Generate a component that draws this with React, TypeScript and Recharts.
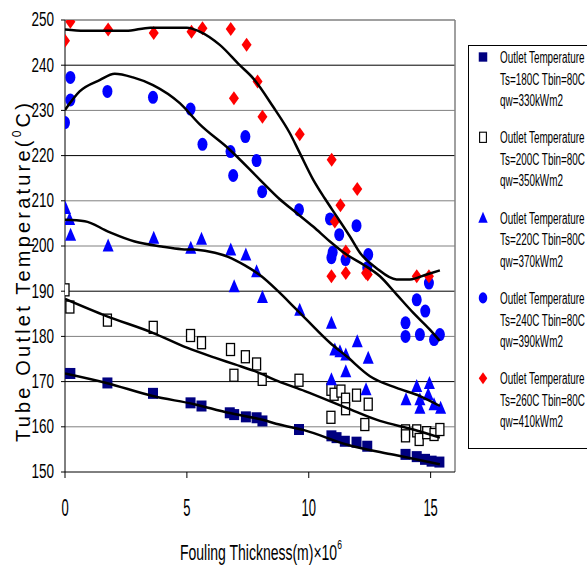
import React from "react";
import { ReferenceLine, Scatter, ScatterChart, XAxis, YAxis } from "recharts";

// readings: [fouling thickness (m x 1e6), outlet temperature (C)]
const ts180 = [
  [0, 171.8], [0.22, 171.8], [1.74, 169.7], [3.61, 167.4], [5.15, 165.3], [5.6, 164.6],
  [6.76, 163.1], [6.94, 162.7], [7.42, 162.2], [7.86, 162.0], [8.1, 161.3], [9.6, 159.4],
  [10.93, 158.0], [11.14, 157.6], [11.48, 156.8], [11.96, 156.6], [12.4, 155.7],
  [13.97, 153.9], [14.43, 153.4], [14.77, 152.8], [15.04, 152.4], [15.36, 152.2],
];
const ts200 = [
  [0, 190.3], [0.2, 186.5], [1.74, 183.6], [3.62, 182.0], [5.15, 180.2], [5.6, 178.6],
  [6.79, 177.1], [6.93, 171.4], [7.4, 175.5], [7.86, 173.9], [8.09, 170.5], [9.6, 170.3],
  [10.91, 168.3], [10.91, 162.1], [11.04, 167.2], [11.32, 167.9], [11.51, 166.1],
  [11.51, 164.0], [11.96, 167.0], [12.3, 160.5], [12.44, 165.0], [13.97, 159.1],
  [13.97, 158.0], [14.43, 159.1], [14.53, 157.2], [14.84, 158.7], [15.14, 158.3], [15.38, 159.4],
];
const ts220 = [
  [0.02, 208.4], [0.19, 206.0], [0.23, 202.5], [1.77, 200.1], [3.64, 201.8], [5.16, 199.6],
  [5.6, 201.6], [6.8, 199.2], [6.94, 191.1], [7.42, 198.1], [7.86, 194.4], [8.1, 188.7],
  [9.63, 185.9], [10.93, 183.0], [10.93, 170.5], [11.07, 177.1], [11.28, 176.7],
  [11.52, 176.0], [11.52, 172.3], [11.99, 178.9], [12.35, 168.3], [12.44, 175.3],
  [13.99, 166.1], [14.43, 169.0], [14.56, 166.1], [14.56, 164.2], [14.9, 167.2],
  [14.95, 169.7], [15.14, 165.0], [15.41, 164.2],
];
const ts240 = [
  [0, 227.3], [0.22, 237.3], [0.22, 232.3], [1.74, 234.2], [3.61, 232.9], [5.15, 230.3],
  [5.64, 222.5], [6.79, 220.9], [6.9, 215.6], [7.4, 224.2], [7.86, 218.9], [8.09, 212.0],
  [9.6, 208.0], [10.87, 206.0], [10.93, 197.4], [10.98, 198.6], [11.25, 202.5],
  [11.51, 197.0], [11.96, 204.5], [12.4, 195.2], [12.44, 198.1], [13.97, 183.0],
  [13.97, 180.0], [14.43, 188.1], [14.56, 180.4], [14.78, 185.6], [14.93, 191.8],
  [15.14, 179.3], [15.38, 180.4],
];
const ts260 = [
  [0, 245.4], [0.22, 249.6], [1.77, 247.9], [3.64, 247.1], [5.19, 247.4], [5.64, 248.2],
  [6.8, 248.0], [7.45, 244.5], [6.93, 232.7], [7.9, 236.4], [8.1, 228.6], [9.63, 224.7],
  [10.94, 219.1], [11.99, 212.6], [11.3, 209.0], [11.07, 205.4], [11.52, 198.8],
  [10.93, 193.3], [11.52, 194.0], [12.35, 194.0], [12.42, 193.7], [14.43, 193.3], [14.93, 193.3],
];

// trend curves
const fit180 = [
  [0, 171.8], [1.7, 169.7], [3.6, 166.8], [5.3, 165.0], [6.7, 163.1], [8.06, 161.6],
  [8.8, 160.5], [9.84, 159.2], [11.55, 156.1], [13.5, 153.8], [15.38, 151.7],
];
const fit200 = [
  [0, 188.3], [1.7, 184.5], [3.6, 180.8], [5.0, 177.5], [6.14, 175.3], [6.97, 173.8],
  [7.79, 172.3], [8.74, 170.1], [9.84, 167.9], [11.55, 164.2], [12.92, 161.3],
  [14.29, 159.4], [15.38, 157.6],
];
const fit220 = [
  [0, 205.8], [0.81, 205.5], [1.77, 203.2], [2.86, 201.0], [3.96, 199.9], [4.78, 199.3],
  [5.32, 199.2], [6.15, 198.5], [6.69, 197.6], [7.38, 195.7], [8.06, 193.3], [8.74, 190.0],
  [9.43, 186.3], [9.91, 183.7], [10.87, 178.6], [11.55, 175.6], [12.51, 171.2],
  [13.6, 168.6], [14.56, 166.8], [15.38, 164.6],
];
const fit240 = [
  [0, 230.1], [0.6, 234.2], [1.42, 236.7], [2.04, 238.1], [2.79, 237.3], [3.61, 235.6],
  [4.71, 231.6], [5.53, 226.9], [6.76, 221.3], [7.99, 214.7], [8.8, 210.4], [9.5, 207.3],
  [10.18, 204.3], [10.87, 201.0], [11.55, 198.1], [12.23, 195.9], [12.92, 193.3],
  [13.6, 189.3], [14.29, 185.2], [14.97, 181.5], [15.38, 179.0],
];
const fit260 = [
  [0, 247.9], [0.8, 247.6], [2.5, 247.6], [3.5, 248.3], [5.0, 248.3], [5.5, 247.5],
  [6.35, 244.5], [7.17, 240.0], [7.72, 237.1], [8.54, 230.8], [9.22, 225.0], [9.63, 220.6],
  [10.18, 214.7], [10.66, 210.5], [11.14, 206.6], [11.69, 202.1], [12.1, 198.5],
  [12.78, 195.1], [13.6, 192.6], [14.15, 192.6], [14.84, 193.7], [15.38, 194.6],
];

const xTicks = [0, 5, 10, 15];
const yTicks = [150, 160, 170, 180, 190, 200, 210, 220, 230, 240, 250];
const darkGrid = [240, 220, 190, 170];

const legendTs = ["180", "200", "220", "240", "260"];
const legendQw = ["330", "350", "370", "390", "410"];

const toPts = (a: number[][]) => a.map(([x, y]) => ({ x, y }));

const FONT = '"Liberation Sans", Arial, sans-serif';

const NavySquare = ({ cx, cy }: any) => (
  <rect x={cx - 5} y={cy - 5.5} width={10} height={11} fill="#000080" />
);
const OpenSquare = ({ cx, cy }: any) => (
  <rect x={cx - 4} y={cy - 6} width={8} height={12} fill="#fff" stroke="#000" strokeWidth={1.3} />
);
const Triangle = ({ cx, cy }: any) => (
  <polygon points={`${cx},${cy - 7} ${cx + 5.5},${cy + 6} ${cx - 5.5},${cy + 6}`} fill="#0000ff" />
);
const Dot = ({ cx, cy }: any) => <ellipse cx={cx} cy={cy} rx={5} ry={6.5} fill="#0000ff" />;
const Diamond = ({ cx, cy }: any) => (
  <polygon points={`${cx},${cy - 7} ${cx + 5},${cy} ${cx},${cy + 7} ${cx - 5},${cy}`} fill="#ff0000" />
);
const NoDot = () => <g />;

const markers = [NavySquare, OpenSquare, Triangle, Dot, Diamond];
const series = [ts180, ts200, ts220, ts240, ts260];
const fits = [fit180, fit200, fit220, fit240, fit260];

const YTick = ({ x, y, payload }: any) => (
  <text
    transform={`translate(${x},${y}) scale(1,1.48)`}
    textAnchor="end"
    dominantBaseline="central"
    fontSize={13.5}
    fontFamily={FONT}
    fill="#000"
  >
    {payload.value}
  </text>
);

const XTick = ({ x, y, payload }: any) => (
  <text
    transform={`translate(${x},${y}) scale(1,1.8)`}
    textAnchor="middle"
    dominantBaseline="central"
    fontSize={13}
    fontFamily={FONT}
    fill="#000"
  >
    {payload.value}
  </text>
);

function Legend() {
  return (
    <g fontFamily={FONT} fill="#000">
      <rect x={468.5} y={45.5} width={140} height={403} fill="#fff" stroke="#000" strokeWidth={1} />
      {legendTs.map((ts, i) => {
        const y = 57 + i * 80.3;
        const M = markers[i];
        const lines = ["Outlet Temperature", `Ts=${ts}C Tbin=80C`, `qw=${legendQw[i]}kWm2`];
        return (
          <g key={ts}>
            <g transform={`translate(483,${y}) scale(0.85)`}>
              <M cx={0} cy={0} />
            </g>
            {lines.map((t, j) => (
              <text
                key={j}
                transform={`translate(500,${y + j * 21.5}) scale(1,1.72)`}
                dominantBaseline="central"
                fontSize={9.9}
              >
                {t}
              </text>
            ))}
          </g>
        );
      })}
    </g>
  );
}

export default function App() {
  return (
    <div
      style={{
        position: "absolute",
        left: 0,
        top: 0,
        width: 587,
        height: 565,
        background: "#fff",
        overflow: "hidden",
      }}
    >
      <ScatterChart width={587} height={565} margin={{ top: 20, right: 132, bottom: 33, left: 20 }}>
        {yTicks
          .filter((v) => v > 150 && v < 250)
          .map((v) => (
            <ReferenceLine
              key={v}
              y={v}
              stroke={darkGrid.includes(v) ? "#000" : "#808080"}
              strokeWidth={1}
            />
          ))}
        <ReferenceLine y={250} stroke="#808080" strokeWidth={1.5} />
        <ReferenceLine x={16} stroke="#808080" strokeWidth={1.5} />
        <XAxis
          type="number"
          dataKey="x"
          domain={[0, 16]}
          ticks={xTicks}
          allowDataOverflow
          height={60}
          tickSize={6}
          tickMargin={30}
          axisLine={{ stroke: "#000" }}
          tickLine={{ stroke: "#000" }}
          tick={<XTick />}
        />
        <YAxis
          type="number"
          dataKey="y"
          domain={[150, 250]}
          ticks={yTicks}
          allowDataOverflow
          width={45}
          tickSize={4}
          tickMargin={7}
          axisLine={{ stroke: "#000" }}
          tickLine={{ stroke: "#000" }}
          tick={<YTick />}
        />
        {series.map((s, i) => (
          <Scatter
            key={`s${i}`}
            data={toPts(s)}
            shape={markers[i]}
            isAnimationActive={false}
          />
        ))}
        {fits.map((f, i) => (
          <Scatter
            key={`f${i}`}
            data={toPts(f)}
            line={{ stroke: "#000", strokeWidth: 2.5 }}
            lineJointType="monotoneX"
            shape={NoDot}
            isAnimationActive={false}
          />
        ))}
      </ScatterChart>
      <svg
        width={587}
        height={565}
        style={{ position: "absolute", left: 0, top: 0, pointerEvents: "none" }}
      >
        <text
          transform="translate(29.5,271) rotate(-90)"
          textAnchor="middle"
          fontSize={20}
          letterSpacing={3.2}
          fontFamily={FONT}
          fill="#000"
        >
          Tube Outlet Temperature(
          <tspan fontSize={12} dy={-9}>0</tspan>
          <tspan dy={9}>C)</tspan>
        </text>
        <text
          transform="translate(180,552) scale(1,1.6)"
          dominantBaseline="central"
          fontSize={14}
          fontFamily={FONT}
          fill="#000"
        >
          Fouling Thickness(m)×10
          <tspan fontSize={8.5} dy={-5}>6</tspan>
        </text>
        <Legend />
      </svg>
    </div>
  );
}
